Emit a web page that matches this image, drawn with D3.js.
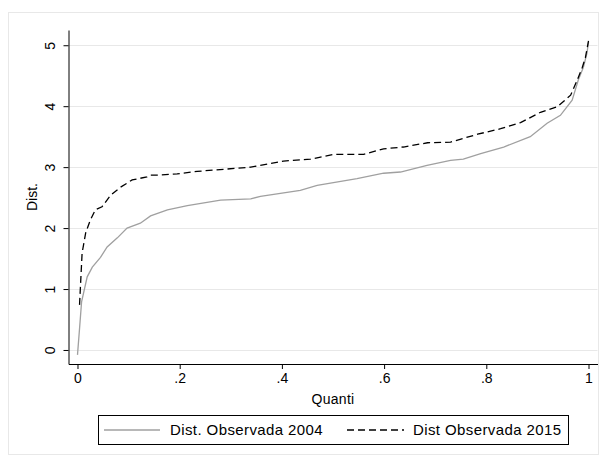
<!DOCTYPE html>
<html>
<head>
<meta charset="utf-8">
<script src="https://cdn.jsdelivr.net/npm/d3@7"></script>
<style>
  body { margin: 0; background: #fff; }
  text { font-family: "Liberation Sans", Arial, sans-serif; fill: #000; }
</style>
</head>
<body>
<svg></svg>
<script>
// quantile (q) and value for each series
const q2004 = [0, 0.004, 0.008, 0.019, 0.029, 0.045, 0.058, 0.078, 0.097, 0.123, 0.143, 0.176, 0.215, 0.28, 0.339, 0.358, 0.436, 0.469, 0.547, 0.599, 0.632, 0.684, 0.73, 0.755, 0.789, 0.834, 0.886, 0.919, 0.945, 0.968, 0.98, 0.99, 0.997, 1];
const v2004 = [-0.08, 0.35, 0.79, 1.2, 1.36, 1.52, 1.69, 1.84, 2.0, 2.08, 2.2, 2.3, 2.37, 2.46, 2.48, 2.52, 2.62, 2.7, 2.81, 2.9, 2.92, 3.03, 3.11, 3.13, 3.22, 3.33, 3.5, 3.72, 3.85, 4.1, 4.43, 4.64, 4.87, 5.05];

const q2015 = [0.004, 0.009, 0.016, 0.025, 0.035, 0.048, 0.065, 0.084, 0.107, 0.136, 0.143, 0.162, 0.195, 0.234, 0.339, 0.403, 0.456, 0.501, 0.56, 0.599, 0.638, 0.685, 0.73, 0.783, 0.828, 0.867, 0.906, 0.939, 0.965, 0.978, 0.988, 0.994, 1];
const v2015 = [0.74, 1.59, 1.92, 2.13, 2.3, 2.35, 2.54, 2.67, 2.79, 2.84, 2.87, 2.87, 2.89, 2.93, 3.0, 3.1, 3.13, 3.21, 3.21, 3.3, 3.33, 3.4, 3.41, 3.54, 3.63, 3.73, 3.9, 3.99, 4.18, 4.43, 4.64, 4.8, 5.07];

const xTicks = [0, 0.2, 0.4, 0.6, 0.8, 1];
const yTicks = [0, 1, 2, 3, 4, 5];
const seriesNames = ["Dist. Observada 2004", "Dist Observada 2015"];

const width = 600, height = 456;
const fs = "14px";
const svg = d3.select("svg").attr("width", width).attr("height", height);

// outer frame
svg.append("rect")
   .attr("x", 8.5).attr("y", 12.5)
   .attr("width", 590).attr("height", 442)
   .attr("fill", "#fff")
   .attr("stroke", "#e8e8e8");

const x = d3.scaleLinear().domain([-0.0176, 1.0176]).range([68.5, 597.5]);
const y = d3.scaleLinear().domain([-0.23, 5.25]).range([364, 30]);

// grid lines
svg.append("g")
   .selectAll("line")
   .data(yTicks)
   .enter()
   .append("line")
   .attr("x1", x.range()[0]).attr("x2", x.range()[1])
   .attr("y1", d => Math.round(y(d)) + 0.5)
   .attr("y2", d => Math.round(y(d)) + 0.5)
   .attr("stroke", "#e8e8e8");

const fmtX = d => d === 0 ? "0" : d === 1 ? "1" : d3.format(".1f")(d).replace(/^0/, "");

svg.append("g")
   .attr("transform", "translate(0,364)")
   .call(d3.axisBottom(x).tickValues(xTicks).tickFormat(fmtX).tickSize(5).tickPadding(4).tickSizeOuter(0))
   .call(g => g.select(".domain").attr("stroke", "#000"))
   .call(g => g.selectAll("text").style("font-size", fs));

svg.append("g")
   .attr("transform", "translate(68.5,0)")
   .call(d3.axisLeft(y).tickValues(yTicks).tickSize(5).tickSizeOuter(0).tickFormat(d3.format("d")))
   .call(g => g.select(".domain").attr("stroke", "#000"))
   .call(g => g.selectAll(".tick text")
       .style("font-size", fs)
       .style("text-anchor", "middle")
       .attr("x", 0).attr("y", 0)
       .attr("dy", "0.35em")
       .attr("transform", "translate(-18,0) rotate(-90)"));

// axis titles
svg.append("text")
   .attr("x", x(0.5)).attr("y", 404)
   .style("text-anchor", "middle")
   .style("font-size", fs)
   .style("letter-spacing", "0.3px")
   .text("Quanti");

svg.append("text")
   .attr("transform", "translate(37,197) rotate(-90)")
   .style("text-anchor", "middle")
   .style("font-size", fs)
   .text("Dist.");

// lines
const line = d3.line().x(d => x(d[0])).y(d => y(d[1]));

svg.append("path")
   .datum(q2004.map((q, i) => [q, v2004[i]]))
   .attr("d", line)
   .attr("fill", "none")
   .attr("stroke", "#a0a0a0")
   .attr("stroke-width", 1.3);

svg.append("path")
   .datum(q2015.map((q, i) => [q, v2015[i]]))
   .attr("d", line)
   .attr("fill", "none")
   .attr("stroke", "#000")
   .attr("stroke-width", 1.3)
   .attr("stroke-dasharray", "7,4");

// legend
const lg = svg.append("g");
lg.append("rect")
  .attr("x", 98.5).attr("y", 415.5)
  .attr("width", 470).attr("height", 29)
  .attr("fill", "#fff").attr("stroke", "#000");

lg.append("line")
  .attr("x1", 104).attr("x2", 160).attr("y1", 430).attr("y2", 430)
  .attr("stroke", "#a0a0a0").attr("stroke-width", 1.3);
lg.append("text")
  .attr("x", 170).attr("y", 430).attr("dy", "0.35em")
  .style("font-size", "15px")
  .style("letter-spacing", "0.4px")
  .text(seriesNames[0]);

lg.append("line")
  .attr("x1", 347).attr("x2", 404).attr("y1", 430).attr("y2", 430)
  .attr("stroke", "#000").attr("stroke-width", 1.3)
  .attr("stroke-dasharray", "7,4");
lg.append("text")
  .attr("x", 413).attr("y", 430).attr("dy", "0.35em")
  .style("font-size", "15px")
  .style("letter-spacing", "0.4px")
  .text(seriesNames[1]);
</script>
</body>
</html>
